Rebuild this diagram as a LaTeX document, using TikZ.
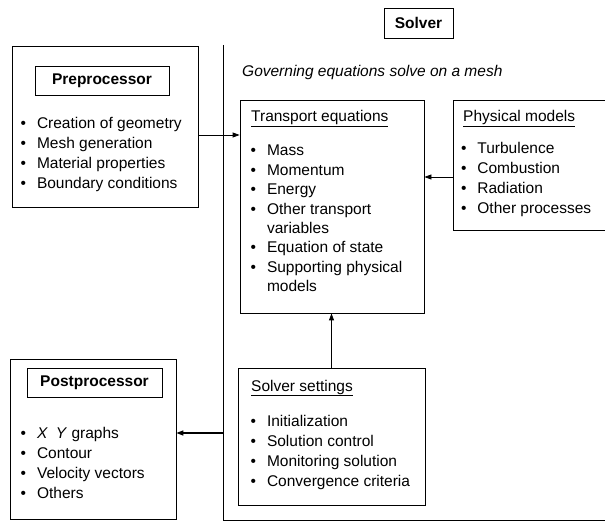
\documentclass[tikz,border=0pt]{standalone}
\usepackage{fontspec}
\setmainfont{Liberation Sans}
\usetikzlibrary{arrows.meta,positioning}
\newcommand{\bul}{\textbullet\hspace{11pt}}
\newcommand{\nobul}{\phantom{\textbullet}\hspace{11pt}}

\begin{document}
\begin{tikzpicture}[x=1pt, y=-1pt,
  box/.style={draw, line width=0.8pt, inner sep=0pt},
  titlebox/.style={draw, line width=0.8pt, inner sep=0pt, font=\fontsize{15.5}{20}\selectfont\bfseries},
  heading/.style={anchor=base west, inner sep=0pt, font=\fontsize{15.5}{20}\selectfont},
  itemlist/.style={anchor=north west, inner sep=0pt, align=left, font=\fontsize{15.5}{20}\selectfont},
  link/.style={-{Triangle[length=7pt,width=5pt]}, line width=0.8pt}
]
  \useasboundingbox (0,0) rectangle (605,521);

  % solver frame
  \node[titlebox, minimum width=69pt, minimum height=30pt] (solver) at (418.5,23) {Solver};
  \coordinate (frametop) at (223,45);
  \coordinate (framecorner) at (223,520);
  \coordinate (frameend) at (606,520);
  \draw[line width=0.8pt] (frametop) -- (framecorner) -- (frameend);
  \node[heading] (mesh) at (242,77) {\itshape Governing equations solve on a mesh};

  % preprocessor
  \node[box, minimum width=186pt, minimum height=161pt] (pre) at (105,126.5) {};
  \node[titlebox, minimum width=134pt, minimum height=29pt] (pretitle) at (102,80.5) {Preprocessor};
  \node[itemlist] (prelist) at (20.4,117) {\bul Creation of geometry\\ \bul Mesh generation\\ \bul Material properties\\ \bul Boundary conditions};

  % transport equations
  \node[box, minimum width=184pt, minimum height=213pt] (transport) at (332,206.5) {};
  \node[heading] (transporttitle) at (251,122) {\underline{Transport equations}};
  \node[itemlist, font=\fontsize{15.5}{19.4}\selectfont] (transportlist) at (250.4,145) {\bul Mass\\ \bul Momentum\\ \bul Energy\\ \bul Other transport\\ \nobul variables\\ \bul Equation of state\\ \bul Supporting physical\\ \nobul models};

  % physical models
  \node[box, minimum width=162pt, minimum height=130pt] (physical) at (534,165) {};
  \node[heading] (physicaltitle) at (463,122) {\underline{Physical models}};
  \node[itemlist] (physicallist) at (460.8,142) {\bul Turbulence\\ \bul Combustion\\ \bul Radiation\\ \bul Other processes};

  % solver settings
  \node[box, minimum width=187pt, minimum height=137pt] (settings) at (331.5,436.5) {};
  \node[heading] (settingstitle) at (251,391) {\underline{Solver settings}};
  \node[itemlist] (settingslist) at (250.4,415) {\bul Initialization\\ \bul Solution control\\ \bul Monitoring solution\\ \bul Convergence criteria};

  % postprocessor
  \node[box, minimum width=166pt, minimum height=160pt] (post) at (93,439) {};
  \node[titlebox, minimum width=135pt, minimum height=29pt] (posttitle) at (94.5,382.5) {Postprocessor};
  \node[itemlist] (postlist) at (20.4,427) {\bul \textit{X\ \ Y} graphs\\ \bul Contour\\ \bul Velocity vectors\\ \bul Others};

  \draw[link] ([yshift=-8.5pt]pre.east) -- ([yshift=-8.5pt]pre.east -| transport.west);
  \draw[link] ([yshift=-12pt]physical.west) -- ([yshift=-12pt]physical.west -| transport.east);
  \draw[link] (settings.north) -- (settings.north |- transport.south);
  \draw[link, line width=1.4pt] ([yshift=6pt]post.east -| frametop) -- ([yshift=6pt]post.east);
\end{tikzpicture}
\end{document}
